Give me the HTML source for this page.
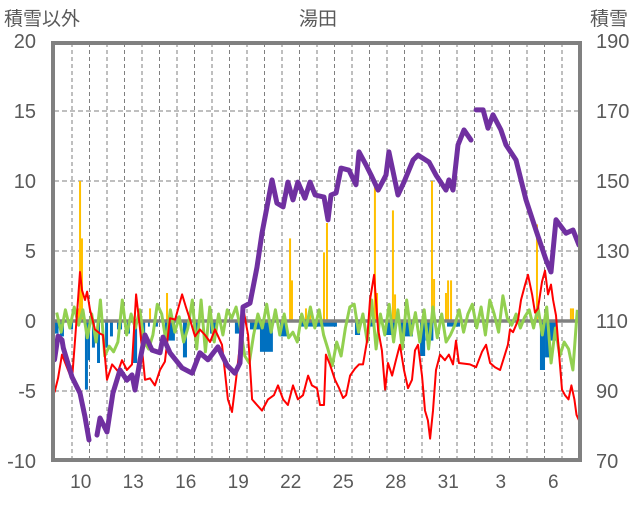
<!DOCTYPE html>
<html><head><meta charset="utf-8"><style>
html,body{margin:0;padding:0;background:#fff;}
svg text{font-family:"Liberation Sans","Noto Sans CJK JP",sans-serif;fill:#595959;}
</style></head><body>
<svg id="chart" width="636" height="501" xmlns="http://www.w3.org/2000/svg">
<g id="grid"></g>
<g id="bars"></g>
<g id="lines"></g>
<g id="axes"></g>
</svg>
<script>
const xLabels=["10","13","16","19","22","25","28","31","3","6"];
const xLabelDays=[1,4,7,10,13,16,19,22,25,28];
const leftTicks=[20,15,10,5,0,-5,-10];
const rightTicks=[190,170,150,130,110,90,70];
const snowT=[0,0.2,0.43,0.5,1.0,1.46,1.74,1.97,null,2.43,2.6,3.0,3.34,3.74,4.14,4.43,4.6,4.89,5.17,5.57,6.03,6.2,6.6,7.29,7.86,8.31,8.77,9.34,9.86,10.31,10.6,10.77,11.17,11.57,11.86,12.14,12.43,12.71,13.06,13.34,13.63,13.91,14.31,14.6,14.89,15.4,15.63,15.8,16.09,16.37,16.83,17.23,17.4,17.8,18.09,18.49,18.94,19.11,19.63,19.97,20.49,20.77,21.4,21.8,22.37,22.54,22.77,23.06,23.4,23.8,null,24.09,24.49,24.77,25.06,25.51,25.8,26.37,26.94,27.51,28.09,28.37,28.66,29.23,29.63,29.97];
const snowV=[98.9,105.7,104.6,102.3,94,89.4,82.6,76,null,77.4,82.3,78.3,89.4,96,93.1,94.6,90.3,98.9,106,101.7,100.9,105.4,100.9,96.6,95.1,100.9,98.9,102.6,97.4,95.1,98,114,115.1,125.4,135.1,142.6,150.3,143.7,142.6,149.7,144.6,149.7,145.1,149.7,146,145.4,138.9,146,146.6,153.7,153.1,148.9,158.3,154.6,151.7,147.4,151.7,158.3,146,149.7,156,157.4,155.4,151.7,147.4,150.3,147.4,160.3,164.6,161.7,null,170.3,170.3,165.1,168.9,164.6,160.3,156,144.6,136,127.4,124,138.9,135.1,136,131.7];
const tempT=[0,0.2,0.43,0.77,1.0,1.17,1.34,1.46,1.57,1.74,1.86,2.03,2.31,2.6,2.77,3.0,3.29,3.63,3.86,4.14,4.43,4.66,4.89,5.17,5.46,5.74,6.03,6.31,6.6,6.89,7.29,7.51,7.74,8.03,8.31,8.6,8.89,9.17,9.57,9.91,10.14,10.37,10.6,10.83,11.06,11.29,11.57,11.86,12.2,12.54,12.77,13.06,13.34,13.63,13.91,14.2,14.49,14.71,15.0,15.17,15.4,15.51,15.74,16.03,16.26,16.49,16.66,16.89,17.17,17.4,17.63,17.86,18.03,18.26,18.49,18.71,18.89,19.06,19.29,19.51,19.74,19.97,20.2,20.43,20.6,20.77,21.0,21.17,21.34,21.46,21.63,21.8,22.03,22.31,22.54,22.77,22.94,23.11,23.74,24.09,24.43,24.66,24.89,25.17,25.46,25.74,25.91,26.03,26.2,26.37,26.49,26.66,26.89,27.06,27.29,27.46,27.63,27.86,28.03,28.2,28.37,28.49,28.66,28.83,29.0,29.17,29.37,29.54,29.71,29.83,29.97];
const tempV=[-5.1,-4.1,-2.4,-3.5,-4.2,-1.4,1.5,3.5,2.2,1.5,2.1,0.8,-0.6,-0.9,-1.0,-4.2,-3.1,-3.6,-2.8,-3.5,-3.1,1.9,-0.6,-4.2,-4.1,-4.6,-3.5,-2.9,0.2,0.1,1.9,1.0,0.1,-1.1,-0.6,-1.0,-1.5,-0.6,-1.7,-5.6,-6.5,-4.2,-1.7,0.6,-1.0,-5.6,-6.0,-6.4,-5.6,-5.3,-4.6,-5.6,-6.0,-4.6,-5.6,-5.3,-3.9,-4.6,-4.8,-6.0,-6.0,-2.4,-3.1,-4.2,-4.8,-5.5,-5.3,-3.9,-3.4,-3.1,-3.1,-1.4,1.5,3.3,-0.6,-2.1,-4.9,-3.0,-3.9,-2.8,-1.7,-3.5,-4.8,-4.2,-2.1,-1.7,-3.9,-6.4,-7.1,-8.4,-6.4,-3.5,-2.4,-2.8,-2.4,-3.1,-1.4,-3.0,-3.1,-3.3,-2.2,-1.7,-3.0,-3.3,-3.5,-2.4,-1.7,-0.6,-0.8,-0.3,0.1,1.5,2.6,3.3,1.9,0.6,0.9,2.8,3.6,1.9,2.6,1.5,0.4,-2.3,-4.9,-5.3,-5.6,-4.6,-5.6,-6.7,-7.1];
const greenStart=0;
const greenStep=0.25;
const greenV=[0.6,-0.8,0.8,-0.5, 1.0,-0.3,0.8,-1.2, 0.5,-1.5,1.5,-2.5, -1.8,-2.2,-1.5,1.5, -1.0,0.5,-0.5,0.8, -1.5,-2.0,-1.0,1.2, 0.5,-1.5,0.8,-0.8, 0.3,-1.5,-0.5,1.5, -2.0,1.5,-2.2,1.0, -1.5,0.5,-1.0,0.8, 0.2,1.0,-0.5,-2.5, -3.0,-1.0,0.5,-0.5, 1.2,-0.8,0.8,-1.0, 0.5,-1.2,-0.8,-1.5, 0.5,-0.5,1.0,-0.5, 0.8,-1.0,-2.0,-3.2, -1.5,-2.5,-0.5,1.0, 1.2,-0.8,0.5,-1.5, 1.5,-2.0,0.5,-1.0, 1.2,-1.5,0.8,-2.0, 1.5,-1.0,0.6,-1.5, 0.8,-2.0,1.0,-1.2, 0.5,-1.5,-1.0,-0.3, 0.8,-0.8,0.5,1.2, -0.5,1.0,-1.0,1.5, 0.5,-0.8,1.8,0.2, -0.3,0.5,-0.5,0.3, 0.8,-0.5,1.0,-1.0, 1.0,-3.0,-0.5,-2.5, -1.5,-2.0,-3.5,0.8];
const blueT=[0.03,0.31,0.89,1.74,1.91,2.14,2.43,2.89,3.17,3.57,4.14,4.49,4.89,5.34,5.74,6.31,7.34,7.91,8.89,10.31,11.17,11.74,12.89,14.03,17.17,18.03,18.94,19.74,20.89,21.2,22.43,27.74,28.03,28.31];
const blueD=[0.2,0.23,0.17,0.17,0.12,0.17,0.17,0.17,0.17,0.29,0.17,0.23,0.29,0.11,0.17,0.57,0.23,0.4,0.4,0.29,0.57,0.74,0.4,2.11,0.29,0.29,0.51,0.74,0.29,0.45,0.74,0.29,0.29,0.34];
const blueV=[-0.9,-1.1,-0.6,-4.9,-2.8,-1.9,-3.0,-1.9,-1.1,-0.6,-0.9,-3.0,-1.4,-0.4,-0.4,-1.4,-2.6,-0.9,-0.9,-0.9,-0.6,-2.2,-1.1,-0.4,-1.0,-0.4,-1.0,-1.1,-2.5,-1.4,-0.4,-3.5,-2.6,-1.4];
const orangeT=[1.4,1.46,1.57,5.46,6.43,13.46,13.57,14.37,14.6,15.4,15.57,18.31,18.43,19.34,19.46,21.57,21.69,22.37,22.49,22.66,27.57,29.51,29.63];
const orangeV=[0.9,10,5.9,0.9,2,5.9,2.9,0.9,0.9,4.9,7,9.9,2,7.9,1.9,10,3,2,2.9,2.9,6.9,0.9,0.9];

const NS="http://www.w3.org/2000/svg";
const X0=54.5, PXD=17.5, NDAYS=30;
function xs(t){return X0+t*PXD;}
function yl(v){return 321-14*v;}
function yr(v){return 321-3.5*(v-110);}
function mk(tag,attrs,parent){const e=document.createElementNS(NS,tag);for(const k in attrs)e.setAttribute(k,attrs[k]);document.getElementById(parent).appendChild(e);return e;}

for(let d=1;d<NDAYS;d++){
  const l=mk('line',{x1:xs(d),x2:xs(d),y1:43,y2:460,stroke:'#7f7f7f','stroke-width':1,'stroke-dasharray':'4,3'},'grid');
  
  
}
for(const v of leftTicks){
  if(v===20||v===-10||v===0)continue;
  const l=mk('line',{x1:54,x2:580,y1:yl(v),y2:yl(v),stroke:'#7f7f7f','stroke-width':1,'stroke-dasharray':'5,3'},'grid');
  
  
}
for(let i=0;i<blueT.length;i++){
  const y=yl(blueV[i]);
  const r=mk('rect',{x:xs(blueT[i]),y:yl(0),width:blueD[i]*PXD,height:y-yl(0),fill:'#0070C0'},'bars');
  
  
}
for(let i=0;i<orangeT.length;i++){
  const y=yl(orangeV[i]);
  const r=mk('rect',{x:xs(orangeT[i])-1,y:y,width:2,height:yl(0)-y,fill:'#FFC000'},'bars');
  
  
}
const zl=mk('line',{x1:54,x2:580,y1:yl(0),y2:yl(0),stroke:'#808080','stroke-width':3.5},'bars');



function pathFrom(ts,vs,yf){
  let d='',pen=false;
  for(let i=0;i<ts.length;i++){
    if(ts[i]===null||vs[i]===null){pen=false;continue;}
    d+=(pen?'L':'M')+xs(ts[i]).toFixed(1)+','+yf(vs[i]).toFixed(1);pen=true;
  }
  return d;
}
const gT=greenV.map((v,i)=>greenStart+0.125+i*greenStep);
const gp=mk('path',{d:pathFrom(gT,greenV,yl),fill:'none',stroke:'#92D050','stroke-width':3,'stroke-linejoin':'round'},'lines');


const rp=mk('path',{d:pathFrom(tempT,tempV,yl),fill:'none',stroke:'#FF0000','stroke-width':2,'stroke-linejoin':'round'},'lines');


const pp=mk('path',{d:pathFrom(snowT,snowV,yr),fill:'none',stroke:'#7030A0','stroke-width':5,'stroke-linejoin':'round','stroke-linecap':'round'},'lines');



const fr=mk('rect',{x:53,y:43,width:527,height:417,fill:'none',stroke:'#808080','stroke-width':4},'axes');


for(const v of leftTicks){
  const t=mk('text',{x:36,y:yl(v)+7,'text-anchor':'end','font-size':20},'axes');
  t.textContent=v;
  
  
}
for(const v of rightTicks){
  const t=mk('text',{x:596,y:yr(v)+7,'text-anchor':'start','font-size':20},'axes');
  t.textContent=v;
  
  
}
for(let i=0;i<xLabels.length;i++){
  const t=mk('text',{x:xs(xLabelDays[i]+0.5),y:488,'text-anchor':'middle','font-size':19},'axes');
  t.textContent=xLabels[i];
  
  
}
const a=mk('text',{x:4,y:25,'font-size':19},'axes');a.textContent='積雪以外';


const b=mk('text',{x:318,y:25,'text-anchor':'middle','font-size':19},'axes');b.textContent='湯田';


const c=mk('text',{x:590,y:25,'font-size':19},'axes');c.textContent='積雪';


</script>
</body></html>
